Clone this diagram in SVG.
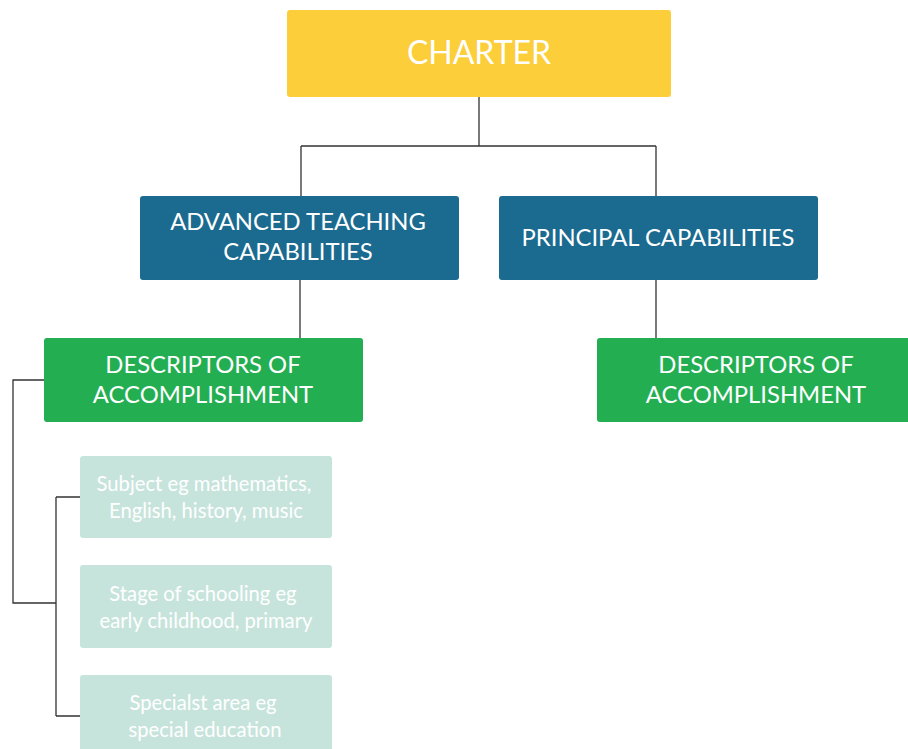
<svg xmlns="http://www.w3.org/2000/svg" width="908" height="749" viewBox="0 0 908 749">
  <style>
    .lbl { font-family: Lato, "Open Sans", "Liberation Sans", sans-serif; fill: #ffffff; text-anchor: middle; dominant-baseline: central; }
    .big { font-size: 32px; }
    .mid { font-size: 23.8px; }
    .sml { font-size: 20.2px; }
    .yel { fill: #fbce3a; }
    .blu { fill: #1b6a8f; }
    .grn { fill: #23ae52; }
    .pal { fill: #c7e4dc; }
    .edge { fill: none; stroke: #333333; stroke-width: 1.3; }
  </style>
  <rect width="908" height="749" fill="#ffffff"/>

  <g id="connectors">
    <path class="edge" d="M479,97 V146 M301,146 H656 M301,146 V196 M656,146 V196"/>
    <path class="edge" d="M300,280 V338 M656,280 V338"/>
    <path class="edge" d="M44,380 H13 V603 H56"/>
    <path class="edge" d="M56,497 V716 M56,497 H80 M56,716 H80"/>
  </g>

  <g id="charter">
    <rect class="yel" x="287" y="10" width="384" height="87" rx="3"/>
    <text class="lbl big" x="479" y="51">CHARTER</text>
  </g>

  <g id="advanced-teaching">
    <rect class="blu" x="140" y="196" width="319" height="84" rx="3"/>
    <text class="lbl mid" x="298" y="221">ADVANCED TEACHING</text>
    <text class="lbl mid" x="298" y="251">CAPABILITIES</text>
  </g>

  <g id="principal">
    <rect class="blu" x="499" y="196" width="319" height="84" rx="3"/>
    <text class="lbl mid" x="658" y="237">PRINCIPAL CAPABILITIES</text>
  </g>

  <g id="descriptors-left">
    <rect class="grn" x="44" y="338" width="319" height="84" rx="3"/>
    <text class="lbl mid" x="203" y="364">DESCRIPTORS OF</text>
    <text class="lbl mid" x="203" y="394">ACCOMPLISHMENT</text>
  </g>

  <g id="descriptors-right">
    <rect class="grn" x="597" y="338" width="319" height="84" rx="3"/>
    <text class="lbl mid" x="756" y="364">DESCRIPTORS OF</text>
    <text class="lbl mid" x="756" y="394">ACCOMPLISHMENT</text>
  </g>

  <g id="subject">
    <rect class="pal" x="80" y="456" width="252" height="82" rx="3"/>
    <text class="lbl sml" x="204" y="483">Subject eg mathematics,</text>
    <text class="lbl sml" x="206" y="510">English, history, music</text>
  </g>

  <g id="stage">
    <rect class="pal" x="80" y="565" width="252" height="83" rx="3"/>
    <text class="lbl sml" x="203" y="593">Stage of schooling eg</text>
    <text class="lbl sml" x="206" y="620">early childhood, primary</text>
  </g>

  <g id="specialist">
    <rect class="pal" x="80" y="675" width="252" height="83" rx="3"/>
    <text class="lbl sml" x="203" y="702">Specialst area eg</text>
    <text class="lbl sml" x="205" y="729">special education</text>
  </g>
</svg>
